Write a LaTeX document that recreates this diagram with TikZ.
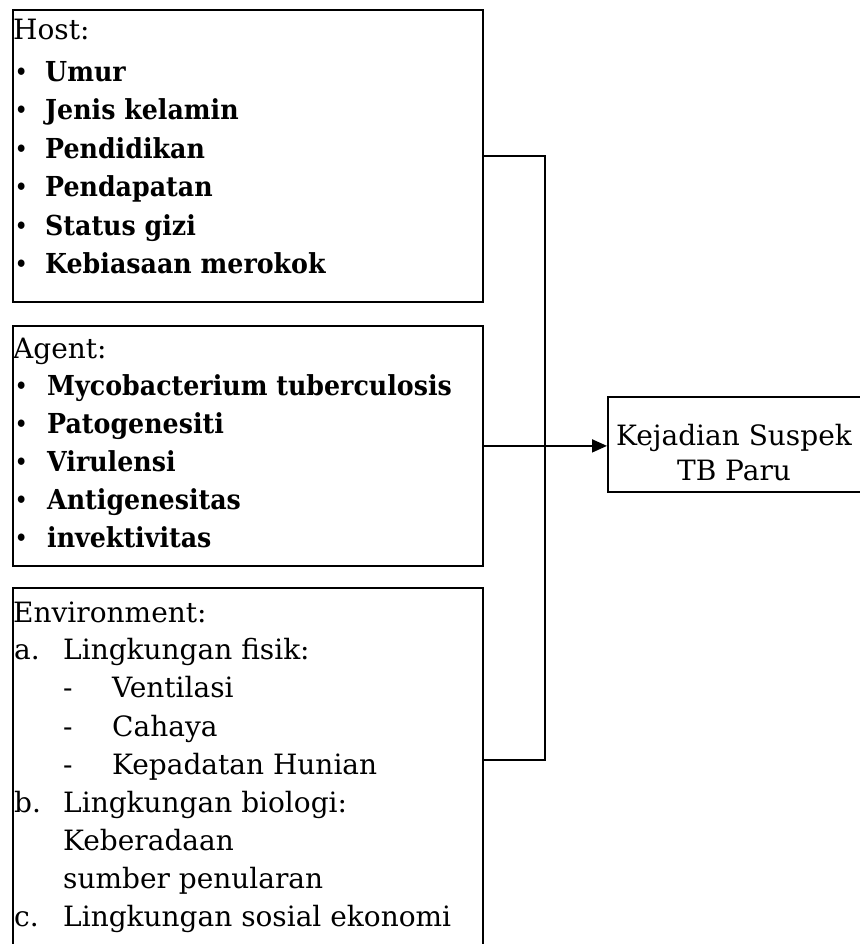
\documentclass[tikz,border=0pt]{standalone}
\usepackage{fontspec}
\setmainfont{DejaVu Serif}[BoldFeatures={FakeStretch=0.92}]
\usetikzlibrary{arrows.meta,calc}
\begin{document}
\begin{tikzpicture}[x=1pt,y=-1pt,
  box/.style={draw,line width=1.8pt,rectangle,inner sep=0pt,anchor=north west},
  ln/.style={anchor=base west,inner sep=0pt,font=\fontsize{28}{32}\selectfont},
  bl/.style={anchor=base west,inner sep=0pt,font=\fontsize{27.5}{32}\selectfont\bfseries},
  dot/.style={anchor=base west,inner sep=0pt,font=\fontsize{21}{24}\selectfont\bfseries},
  ct/.style={anchor=base,inner sep=0pt,font=\fontsize{28}{32}\selectfont},
  conn/.style={line width=1.8pt}]
\useasboundingbox[fill=white] (0,0) rectangle (859,944);
% boxes
\node[box,minimum width=470pt,minimum height=292pt] (host) at (12,9) {};
\node[box,minimum width=470pt,minimum height=240pt] (agent) at (12,325) {};
\node[box,minimum width=470pt,minimum height=420pt] (env) at (12,587) {};
\node[box,minimum width=262pt,minimum height=95pt] (res) at (607,396) {};
% host text
\node[ln] (ht) at (13,40) {Host:};
\foreach \t [count=\i] in {Umur,Jenis kelamin,Pendidikan,Pendapatan,Status gizi,Kebiasaan merokok}{
  \node[dot] (hb\i) at (15,{79.5+38.4*(\i-1)}) {•};
  \node[bl] (hi\i) at (45,{81.5+38.4*(\i-1)}) {\t};
}
% agent text
\node[ln] (at) at (13,358) {Agent:};
\foreach \t [count=\i] in {Mycobacterium tuberculosis,Patogenesiti,Virulensi,Antigenesitas,invektivitas}{
  \node[dot] (ab\i) at (15,{393+38*(\i-1)}) {•};
  \node[bl] (ai\i) at (47,{395+38*(\i-1)}) {\t};
}
% environment text
\node[ln] (et) at (13,622) {Environment:};
\node[ln] (ea) at (14,659) {a.};
\node[ln] (ea1) at (63,659) {Lingkungan fisik:};
\node[ln] (ed1) at (63,697) {-};
\node[ln] (ev1) at (112,697) {Ventilasi};
\node[ln] (ed2) at (63,736) {-};
\node[ln] (ev2) at (112,736) {Cahaya};
\node[ln] (ed3) at (63,774) {-};
\node[ln] (ev3) at (112,774) {Kepadatan Hunian};
\node[ln] (eb) at (14,812) {b.};
\node[ln] (eb1) at (63,812) {Lingkungan biologi:};
\node[ln] (eb2) at (63,850) {Keberadaan};
\node[ln] (eb3) at (63,888) {sumber penularan};
\node[ln] (ec) at (14,926) {c.};
\node[ln] (ec1) at (63,926) {Lingkungan sosial ekonomi};
% result text
\node[ct] (r1) at (734,445) {Kejadian Suspek};
\node[ct] (r2) at (734,480) {TB Paru};
% connectors
\coordinate (j3) at (545,760);
\draw[conn] (host.east) -| (j3) -- (env.east |- j3);
\draw[conn,-{Triangle[length=15pt,width=13pt]}] (agent.east) -- (res.west |- agent.east);
\end{tikzpicture}
\end{document}
